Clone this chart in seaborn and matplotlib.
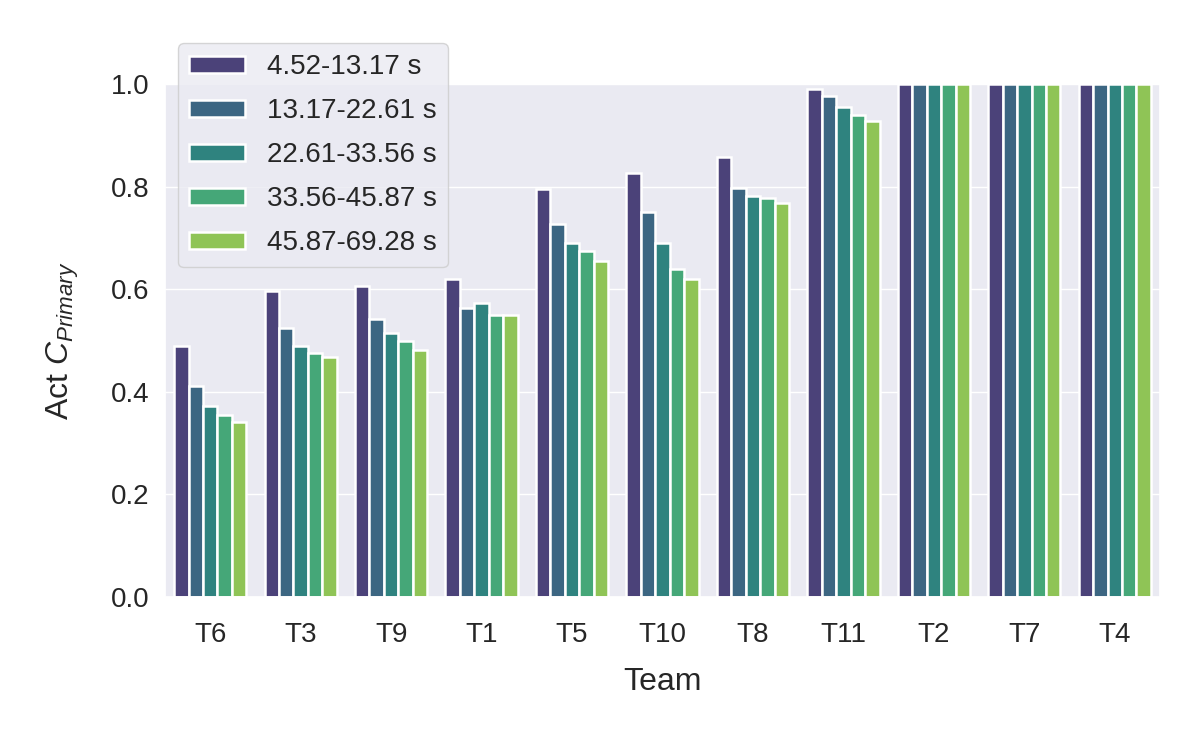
import matplotlib
matplotlib.use("Agg")
import matplotlib.pyplot as plt
import seaborn as sns
import pandas as pd

teams = ["T6", "T3", "T9", "T1", "T5", "T10", "T8", "T11", "T2", "T7", "T4"]
bins = ["4.52-13.17 s", "13.17-22.61 s", "22.61-33.56 s", "33.56-45.87 s", "45.87-69.28 s"]

bin1 = [0.490, 0.596, 0.606, 0.619, 0.795, 0.826, 0.857, 0.990, 1.0, 1.0, 1.0]
bin2 = [0.412, 0.525, 0.542, 0.564, 0.727, 0.751, 0.798, 0.976, 1.0, 1.0, 1.0]
bin3 = [0.373, 0.490, 0.514, 0.574, 0.691, 0.691, 0.782, 0.956, 1.0, 1.0, 1.0]
bin4 = [0.355, 0.475, 0.499, 0.549, 0.674, 0.639, 0.777, 0.939, 1.0, 1.0, 1.0]
bin5 = [0.342, 0.467, 0.482, 0.549, 0.655, 0.619, 0.769, 0.927, 1.0, 1.0, 1.0]

series = [bin1, bin2, bin3, bin4, bin5]
rows = []
for b, vals in zip(bins, series):
    for t, v in zip(teams, vals):
        rows.append({"Team": t, "Bin": b, "Value": v})
df = pd.DataFrame(rows)

sns.set_theme(style="darkgrid")
plt.rcParams["font.family"] = ["Liberation Sans", "DejaVu Sans"]
plt.rcParams["mathtext.fontset"] = "custom"
plt.rcParams["mathtext.rm"] = "Liberation Sans"
plt.rcParams["mathtext.it"] = "Liberation Sans:italic"

fig, ax = plt.subplots(figsize=(12, 7.4), dpi=100)
fig.subplots_adjust(left=165/1200, right=1160/1200, top=1-84/740, bottom=1-597/740)

sns.barplot(data=df, x="Team", y="Value", hue="Bin", order=teams, hue_order=bins,
            palette="viridis", saturation=0.75, edgecolor="white", linewidth=1.8, ax=ax)

ax.set_ylim(0, 1.0)
ax.set_xlabel("Team", fontsize=23, labelpad=14)
ax.set_ylabel("Act $C_{Primary}$", fontsize=23, labelpad=22)
ax.tick_params(axis="x", labelsize=20, pad=12)
ax.tick_params(axis="y", labelsize=20, pad=5)

leg = ax.legend(loc="upper left", bbox_to_anchor=(178/1200, 1-43/740),
                bbox_transform=fig.transFigure, borderaxespad=0, fontsize=20,
                frameon=True, handlelength=2.0, handleheight=0.55, labelspacing=0.65)

fig.savefig("out.png", dpi=100)
